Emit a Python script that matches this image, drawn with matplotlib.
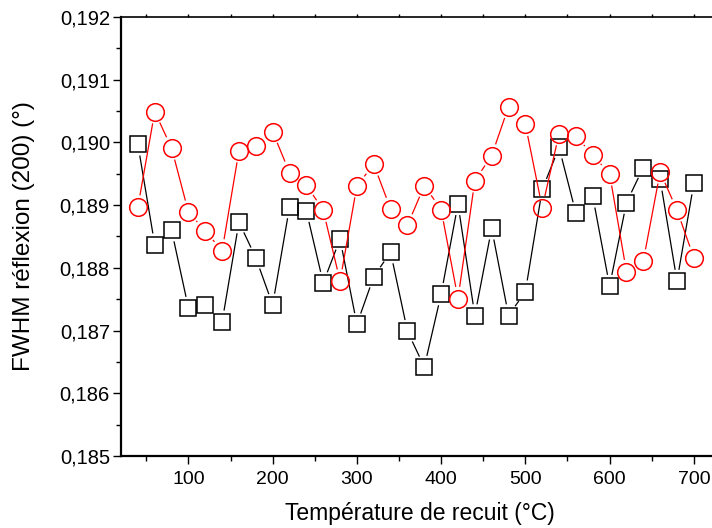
import numpy as np
import matplotlib
matplotlib.use("Agg")
import matplotlib.pyplot as plt
from matplotlib.ticker import MultipleLocator, FuncFormatter

plt.rcParams['font.family'] = ['Liberation Sans', 'DejaVu Sans']

# annealing temperature (°C)
temperature = [40, 60, 80, 100, 120, 140, 160, 180, 200, 220, 240, 260,
               280, 300, 320, 340, 360, 380, 400, 420, 440, 460, 480, 500,
               520, 540, 560, 580, 600, 620, 640, 660, 680, 700]

# FWHM of the (200) reflection, squares (black)
fwhm_squares = [0.18997, 0.18837, 0.18860, 0.18736, 0.18741, 0.18714,
                0.18873, 0.18816, 0.18741, 0.18897, 0.18891, 0.18776,
                0.18846, 0.18710, 0.18786, 0.18825, 0.18699, 0.18642,
                0.18758, 0.18902, 0.18724, 0.18863, 0.18724, 0.18762,
                0.18925, 0.18992, 0.18887, 0.18914, 0.18771, 0.18904,
                0.18960, 0.18941, 0.18779, 0.18935]

# FWHM of the (200) reflection, circles (red)
fwhm_circles = [0.18897, 0.19049, 0.18991, 0.18889, 0.18859, 0.18827,
                0.18987, 0.18994, 0.19017, 0.18952, 0.18932, 0.18892,
                0.18779, 0.18931, 0.18965, 0.18894, 0.18868, 0.18931,
                0.18893, 0.18751, 0.18939, 0.18979, 0.19057, 0.19029,
                0.18896, 0.19014, 0.19010, 0.18980, 0.18950, 0.18794,
                0.18811, 0.18953, 0.18892, 0.18816]


def gapped_line(ax, x, y, gap, **kw):
    """Origin style line: each segment stops short of the markers."""
    pts = ax.transData.transform(np.column_stack([x, y]))
    inv = ax.transData.inverted()
    for p0, p1 in zip(pts[:-1], pts[1:]):
        d = p1 - p0
        length = np.hypot(d[0], d[1])
        if length <= 2 * gap:
            continue
        u = d / length
        a = inv.transform(p0 + u * gap)
        b = inv.transform(p1 - u * gap)
        ax.plot([a[0], b[0]], [a[1], b[1]], **kw)


fig = plt.figure(figsize=(7.12, 5.28), dpi=100)
ax = fig.add_axes([0.170, 0.1364, 0.840, 0.8314])
ax.set_xlim(20, 730)
ax.set_ylim(0.185, 0.192)

gapped_line(ax, temperature, fwhm_squares, 12, color='black', lw=0.9, zorder=2)
ax.plot(temperature, fwhm_squares, ls='none', marker='s', ms=11.3,
        mfc='none', mec='black', mew=1.1, zorder=3)
gapped_line(ax, temperature, fwhm_circles, 12.5, color='red', lw=0.9, zorder=4)
ax.plot(temperature, fwhm_circles, ls='none', marker='o', ms=12.7,
        mfc='none', mec='red', mew=1.1, zorder=5)

ax.xaxis.set_major_locator(MultipleLocator(100))
ax.xaxis.set_minor_locator(MultipleLocator(50))
ax.yaxis.set_major_locator(MultipleLocator(0.001))
ax.yaxis.set_minor_locator(MultipleLocator(0.0005))
ax.yaxis.set_major_formatter(FuncFormatter(lambda v, p: f"{v:.3f}".replace('.', ',')))

ax.tick_params(axis='both', which='major', direction='out', length=6, width=1.0)
ax.tick_params(axis='both', which='minor', direction='out', length=3.3, width=1.0)
ax.tick_params(axis='x', which='major', labelsize=14, pad=5)
ax.tick_params(axis='y', which='major', labelsize=14.5, pad=2)
ax.tick_params(axis='x', which='both', top=True)
for t in ax.xaxis.get_ticklines(minor=False)[1::2] + ax.xaxis.get_ticklines(minor=True)[1::2]:
    t.set_markersize(2.5)

ax.spines['left'].set_linewidth(1.6)
ax.spines['bottom'].set_linewidth(1.6)
ax.spines['top'].set_linewidth(1.2)
ax.spines['right'].set_linewidth(1.2)

ax.set_xlabel('Température de recuit (°C)', fontsize=16.5, labelpad=10)
ax.set_ylabel('FWHM réflexion (200) (°)', fontsize=17.5, labelpad=18)

fig.savefig('out.png', dpi=100)
